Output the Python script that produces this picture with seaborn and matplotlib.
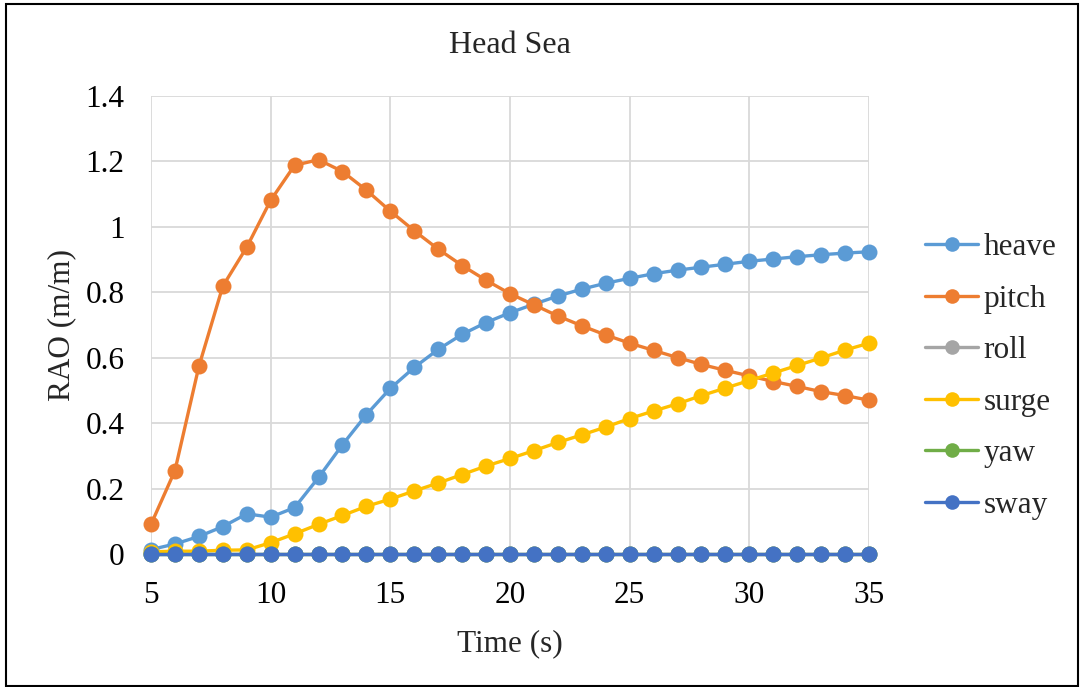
import numpy as np
import pandas as pd
import matplotlib
matplotlib.use("Agg")
import matplotlib.pyplot as plt
from matplotlib.patches import Rectangle
import seaborn as sns

period = list(range(5, 36))
heave = [0.015, 0.032, 0.055, 0.085, 0.124, 0.114, 0.143, 0.235, 0.335, 0.427, 0.507,
         0.571, 0.626, 0.672, 0.708, 0.738, 0.764, 0.789, 0.810, 0.828, 0.843, 0.857,
         0.868, 0.877, 0.886, 0.895, 0.902, 0.909, 0.915, 0.920, 0.924]
pitch = [0.092, 0.256, 0.574, 0.819, 0.938, 1.081, 1.188, 1.205, 1.169, 1.112, 1.048,
         0.988, 0.932, 0.882, 0.837, 0.796, 0.762, 0.728, 0.698, 0.670, 0.645, 0.623,
         0.601, 0.580, 0.562, 0.545, 0.528, 0.513, 0.497, 0.485, 0.471]
roll = [0.0] * 31
surge = [0.008, 0.010, 0.010, 0.013, 0.014, 0.036, 0.063, 0.092, 0.119, 0.147, 0.169,
         0.194, 0.218, 0.244, 0.270, 0.293, 0.317, 0.342, 0.365, 0.389, 0.415, 0.438,
         0.460, 0.485, 0.508, 0.531, 0.554, 0.577, 0.600, 0.624, 0.645]
yaw = [0.0] * 31
sway = [0.0] * 31

series_names = ["heave", "pitch", "roll", "surge", "yaw", "sway"]
series_values = [heave, pitch, roll, surge, yaw, sway]
colors = ["#5B9BD5", "#ED7D31", "#A5A5A5", "#FFC000", "#70AD47", "#4472C4"]
x_ticks = [5, 10, 15, 20, 25, 30, 35]
y_ticks = [0, 0.2, 0.4, 0.6, 0.8, 1.0, 1.2, 1.4]
y_tick_labels = ["0", "0.2", "0.4", "0.6", "0.8", "1", "1.2", "1.4"]

df = pd.DataFrame({
    "Time": np.tile(period, len(series_names)),
    "RAO": np.concatenate(series_values),
    "mode": np.repeat(series_names, len(period)),
})

sns.set_theme(style="white")
plt.rcParams["font.family"] = ["Liberation Serif", "DejaVu Serif"]

FS = 22.5
fig = plt.figure(figsize=(10.84, 6.87), dpi=100)
ax = fig.add_axes([0.1393, 0.1929, 0.6624, 0.6676])

sns.lineplot(data=df, x="Time", y="RAO", hue="mode", hue_order=series_names,
             palette=colors, marker="o", markersize=11.5, markeredgewidth=0,
             linewidth=2.4, ax=ax, legend=True, zorder=3)

ax.set_xlim(5, 35)
ax.set_ylim(0, 1.4)
ax.set_xticks(x_ticks)
ax.set_yticks(y_ticks)
ax.set_yticklabels(y_tick_labels)
ax.grid(True, color="#D9D9D9", linewidth=1.3)
ax.set_axisbelow(True)
for s in ax.spines.values():
    s.set_visible(False)
ax.tick_params(axis="both", labelsize=FS, length=0, colors="black")
ax.tick_params(axis="x", pad=19)
ax.tick_params(axis="y", pad=19)
ax.set_xlabel("Time (s)", fontsize=FS, labelpad=14)
ax.set_ylabel("RAO (m/m)", fontsize=FS, labelpad=7)
ax.set_title("Head Sea", fontsize=23, pad=31)
for line in ax.lines:
    line.set_clip_on(False)

leg = ax.legend(loc="center left", bbox_to_anchor=(1.078, 0.388), frameon=False,
                fontsize=FS, handlelength=1.7, handletextpad=0.18, labelspacing=0.72,
                borderaxespad=0, borderpad=0)
for h in leg.legend_handles:
    h.set_linewidth(2.4)
    h.set_markersize(10.5)

fig.patches.append(Rectangle((0.0055, 0.0015), 0.989, 0.993, transform=fig.transFigure,
                             fill=False, edgecolor="black", linewidth=1.5))

fig.savefig("out.png", dpi=100)
